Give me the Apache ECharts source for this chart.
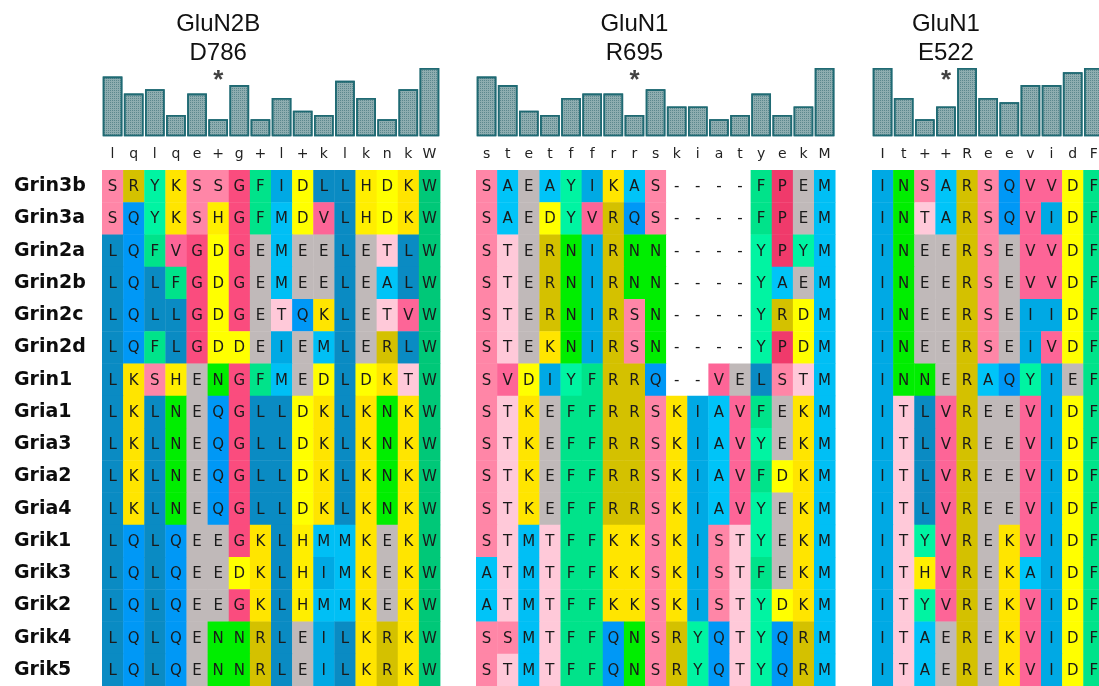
<!DOCTYPE html>
<html>
<head>
<meta charset="utf-8">
<script src="https://cdn.jsdelivr.net/npm/echarts@6/dist/echarts.min.js"></script>
<style>
  html, body { margin: 0; padding: 0; background: #fff; }
  #chart { width: 1099px; height: 686px; }
</style>
</head>
<body>
<div id="chart"></div>
<script>
var dom = document.getElementById('chart');
var myChart = echarts.init(dom, null, { renderer: 'canvas' });

// rows of the alignment
const rows = ['Grin3b', 'Grin3a', 'Grin2a', 'Grin2b', 'Grin2c', 'Grin2d', 'Grin1',
  'Gria1', 'Gria3', 'Gria2', 'Gria4', 'Grik1', 'Grik3', 'Grik2', 'Grik4', 'Grik5'];

// GluN2B D786
const titleA = ['GluN2B', 'D786'];
const consensusA = ['l', 'q', 'l', 'q', 'e', '+', 'g', '+', 'l', '+', 'k', 'l', 'k', 'n', 'k', 'W'];
const scoresA = [14, 10, 11, 5, 10, 4, 12, 4, 9, 6, 5, 13, 9, 4, 11, 16];
const starA = 5;
const seqsA = [
  'SRYKSSGFIDLLHDKW',
  'SQYKSHGFMDVLHDKW',
  'LQFVGDGEMEELETLW',
  'LQLFGDGEMEELEALW',
  'LQLLGDGETQKLETVW',
  'LQFLGDDEIEMLERLW',
  'LKSHENGFMEDLDKTW',
  'LKLNEQGLLDKLKNKW',
  'LKLNEQGLLDKLKNKW',
  'LKLNEQGLLDKLKNKW',
  'LKLNEQGLLDKLKNKW',
  'LQLQEEGKLHMMKEKW',
  'LQLQEEDKLHIMKEKW',
  'LQLQEEGKLHMMKEKW',
  'LQLQENNRLEILKRKW',
  'LQLQENNRLEILKRKW'
];

// GluN1 R695
const titleB = ['GluN1', 'R695'];
const consensusB = ['s', 't', 'e', 't', 'f', 'f', 'r', 'r', 's', 'k', 'i', 'a', 't', 'y', 'e', 'k', 'M'];
const scoresB = [14, 12, 6, 5, 9, 10, 10, 5, 11, 7, 7, 4, 5, 10, 5, 7, 16];
const starB = 7;
const seqsB = [
  'SAEAYIKAS----FPEM',
  'SAEDYVRQS----FPEM',
  'STERNIRNN----YPYM',
  'STERNIRNN----YAEM',
  'STERNIRSN----YRDM',
  'STEKNIRSN----YPDM',
  'SVDIYFRRQ--VELSTM',
  'STKEFFRRSKIAVFEKM',
  'STKEFFRRSKIAVYEKM',
  'STKEFFRRSKIAVFDKM',
  'STKEFFRRSKIAVYEKM',
  'STMTFFKKSKISTYEKM',
  'ATMTFFKKSKISTFEKM',
  'ATMTFFKKSKISTYDKM',
  'SSMTFFQNSRYQTYQRM',
  'STMTFFQNSRYQTYQRM'
];

// GluN1 E522
const titleC = ['GluN1', 'E522'];
const consensusC = ['I', 't', '+', '+', 'R', 'e', 'e', 'v', 'i', 'd', 'F'];
const scoresC = [16, 9, 4, 7, 16, 9, 8, 12, 12, 15, 16];
const starC = 3;
const seqsC = [
  'INSARSQVVDF',
  'INTARSQVIDF',
  'INEERSEVVDF',
  'INEERSEVVDF',
  'INEERSEIIDF',
  'INEERSEIVDF',
  'INNERAQYIEF',
  'ITLVREEVIDF',
  'ITLVREEVIDF',
  'ITLVREEVIDF',
  'ITLVREEVIDF',
  'ITYVREKVIDF',
  'ITHVREKAIDF',
  'ITYVREKVIDF',
  'ITAEREKVIDF',
  'ITAEREKVIDF'
];

// residue colours
const residueColors = {
  A: '#00c4f8', D: '#ffff00', E: '#c0b9b9', F: '#00e38a', G: '#fa4c7e',
  H: '#ffee00', I: '#00a9e4', K: '#ffe500', L: '#0a8bc3', M: '#00bff5',
  N: '#00ee00', P: '#f03a6b', Q: '#0098f6', R: '#d4c100', S: '#ff86a7',
  T: '#ffc9d9', V: '#fd6597', W: '#00c878', Y: '#00f4a2', '-': '#ffffff'
};

// layout
const cellW = 21.125;
const cellH = 32.25;
const cellTop = 170;
const barTop = 68;
const barH = 68.3;
const starLevel = 13.0;

const panels = [
  { title: titleA, consensus: consensusA, scores: scoresA, star: starA, seqs: seqsA, left: 102 },
  { title: titleB, consensus: consensusB, scores: scoresB, star: starB, seqs: seqsB, left: 476 },
  { title: titleC, consensus: consensusC, scores: scoresC, star: starC, seqs: seqsC, left: 872 }
];

const grid = [], xAxis = [], yAxis = [], series = [], title = [];

panels.forEach(function (p, i) {
  const n = p.consensus.length;
  const width = n * cellW;
  const cols = p.consensus.map(function (c, k) { return String(k); });

  // bar grid
  grid.push({ left: p.left, top: barTop, width: width, height: barH, outerBoundsMode: 'none' });
  xAxis.push({
    type: 'category', gridIndex: 2 * i, data: cols,
    axisLine: { show: false }, axisTick: { show: false },
    axisLabel: {
      interval: 0, margin: 11, fontSize: 14, color: '#222',
      fontFamily: 'DejaVu Sans',
      formatter: function (v, idx) { return p.consensus[idx]; }
    }
  });
  yAxis.push({ type: 'value', gridIndex: 2 * i, min: 0, max: 16, show: false });
  series.push({
    type: 'bar', xAxisIndex: 2 * i, yAxisIndex: 2 * i,
    data: p.scores, barCategoryGap: '7%', silent: true,
    itemStyle: {
      color: '#8eadb0', borderColor: '#1f6a73', borderWidth: 1.6,
      decal: {
        symbol: 'rect', symbolSize: 1, dashArrayX: [1, 1], dashArrayY: [1, 1],
        color: 'rgba(30, 90, 100, 0.45)'
      }
    }
  });
  series.push({
    type: 'scatter', xAxisIndex: 2 * i, yAxisIndex: 2 * i,
    data: [[p.star, starLevel]], symbolSize: 0, silent: true,
    label: {
      show: true, position: 'inside', formatter: '*',
      fontSize: 26, fontWeight: 'bold', color: '#111', fontFamily: 'Liberation Sans'
    }
  });

  // title centered on the starred column
  title.push({
    text: p.title.join('\n'),
    left: p.left + (p.star + 0.5) * cellW, top: 10, padding: 0,
    textAlign: 'center',
    textStyle: {
      fontFamily: 'Liberation Sans', fontSize: 24, fontWeight: 'normal',
      lineHeight: 29, color: '#111'
    }
  });

  // alignment grid
  grid.push({ left: p.left, top: cellTop, width: width, height: rows.length * cellH, outerBoundsMode: 'none' });
  xAxis.push({ type: 'category', gridIndex: 2 * i + 1, data: cols, show: false });
  yAxis.push({
    type: 'category', gridIndex: 2 * i + 1, data: rows, inverse: true,
    show: i === 0,
    axisLine: { show: false }, axisTick: { show: false },
    axisLabel: {
      align: 'left', margin: p.left - 14, fontSize: 19, fontWeight: 'bold',
      fontFamily: 'DejaVu Sans', color: '#0d0d0d'
    }
  });

  const cells = [];
  p.seqs.forEach(function (s, r) {
    s.split('').forEach(function (ch, c) { cells.push([c, r, ch]); });
  });
  series.push({
    type: 'custom', xAxisIndex: 2 * i + 1, yAxisIndex: 2 * i + 1,
    silent: true, clip: false,
    data: cells.map(function (d) { return [d[0], d[1]]; }),
    renderItem: function (params, api) {
      const d = cells[params.dataIndex];
      const pt = api.coord([api.value(0), api.value(1)]);
      const sz = api.size([1, 1]);
      return {
        type: 'group',
        children: [
          {
            type: 'rect',
            shape: { x: pt[0] - sz[0] / 2, y: pt[1] - sz[1] / 2, width: sz[0] + 0.4, height: sz[1] + 0.4 },
            style: { fill: residueColors[d[2]] || '#fff' }
          },
          {
            type: 'text',
            style: {
              text: d[2], x: pt[0], y: pt[1] + 1, align: 'center', verticalAlign: 'middle',
              fontSize: 15, fontFamily: 'DejaVu Sans', fill: '#1a1a1a'
            }
          }
        ]
      };
    }
  });
});

var option = {
  backgroundColor: '#fff',
  animation: false,
  title: title,
  grid: grid,
  xAxis: xAxis,
  yAxis: yAxis,
  series: series
};

myChart.setOption(option);
window.addEventListener('resize', myChart.resize);
</script>
</body>
</html>
